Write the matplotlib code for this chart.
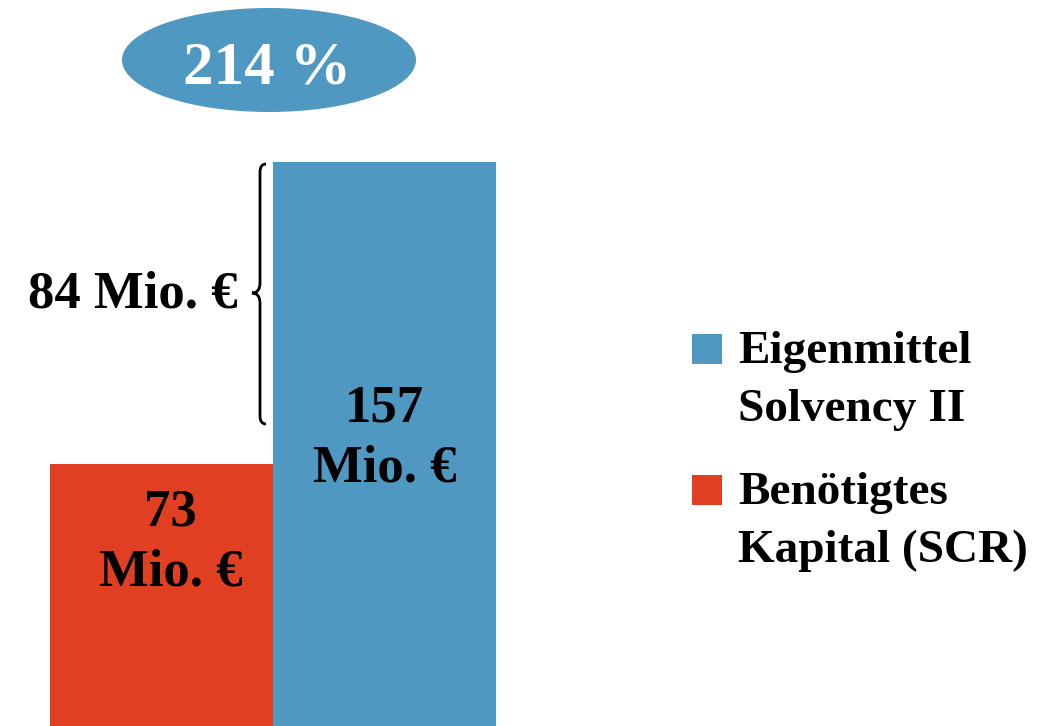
import matplotlib
matplotlib.use('Agg')
import matplotlib.pyplot as plt
from matplotlib.patches import Ellipse, Rectangle, PathPatch
from matplotlib.path import Path

plt.rcParams['font.family'] = ['Liberation Serif', 'DejaVu Serif']
plt.rcParams['font.weight'] = 'bold'

# data
categories = ['Benötigtes\nKapital (SCR)', 'Eigenmittel\nSolvency II']
values = [73, 157]
colors = ['#E03F22', '#4F98C1']
bar_labels = ['73\nMio. €', '157\nMio. €']
ratio_label = '214 %'
gap_label = '84 Mio. €'

fig = plt.figure(figsize=(10.37, 7.26), dpi=100)

# bars
ax = fig.add_axes([50 / 1037, 0, 446 / 1037, 1])
bars = ax.bar([0, 1], values, width=1.0, color=colors, linewidth=0)
ax.set_xlim(-0.5, 1.5)
ax.set_ylim(0, 157 / ((726 - 162) / 726))
ax.axis('off')

# value labels inside the bars
ax.text(0.04, values[0] * 0.70, bar_labels[0], ha='center', va='center',
        fontsize=38, fontweight='bold', linespacing=1.32)
ax.text(1, values[1] * 0.51, bar_labels[1], ha='center', va='center',
        fontsize=38, fontweight='bold', linespacing=1.32)

# overlay in pixel coords for annotations
ov = fig.add_axes([0, 0, 1, 1], zorder=5)
ov.set_xlim(0, 1037)
ov.set_ylim(726, 0)
ov.axis('off')
ov.patch.set_alpha(0)

# ratio bubble
ov.add_patch(Ellipse((269, 60), 294, 104, color=colors[1], lw=0))
ov.text(267, 83, ratio_label, color='white', ha='center', va='baseline',
        fontsize=44, fontweight='bold')

# curly brace
verts = [(266, 164), (260, 164), (260, 172), (260, 283),
         (260, 293), (252, 293), (260, 293), (260, 303),
         (260, 416), (260, 424), (266, 424)]
codes = [Path.MOVETO, Path.CURVE3, Path.CURVE3, Path.LINETO,
         Path.CURVE3, Path.CURVE3, Path.CURVE3, Path.CURVE3,
         Path.LINETO, Path.CURVE3, Path.CURVE3]
ov.add_patch(PathPatch(Path(verts, codes), fill=False, lw=2, color='black'))
ov.text(238, 307, gap_label, ha='right', va='baseline', fontsize=38, fontweight='bold')

# legend
legend_items = [(categories[1], colors[1], 334), (categories[0], colors[0], 475)]
for label, col, top in legend_items:
    ov.add_patch(Rectangle((692, top), 30, 30, color=col, lw=0))
    for i, line in enumerate(label.split('\n')):
        ov.text(738, top + 29 + i * 58, line, ha='left', va='baseline',
                fontsize=34, fontweight='bold')

fig.savefig('out.png', dpi=100)
